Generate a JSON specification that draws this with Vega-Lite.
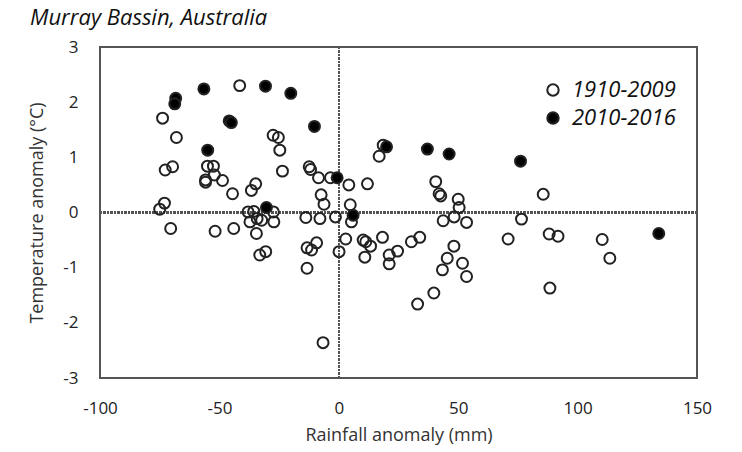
{
  "$schema": "https://vega.github.io/schema/vega-lite/v6.json",
  "width": 597,
  "height": 331,
  "autosize": {"type": "none"},
  "padding": {"left": 100, "top": 47, "right": 45, "bottom": 74},
  "background": "white",
  "title": {
    "text": "Murray Bassin, Australia",
    "anchor": "start",
    "frame": "group",
    "dx": -70,
    "offset": 8,
    "font": "Open Sans",
    "fontSize": 22,
    "fontStyle": "italic",
    "fontWeight": "normal",
    "color": "#111"
  },
  "config": {
    "view": {"stroke": "#555", "strokeWidth": 2},
    "axis": {
      "domain": false,
      "ticks": false,
      "grid": false,
      "labelFlush": false,
      "labelFont": "Open Sans",
      "labelFontSize": 17,
      "labelColor": "#222",
      "titleFont": "Open Sans",
      "titleFontSize": 18,
      "titleFontWeight": "normal",
      "titleColor": "#333"
    }
  },
  "data": {
    "values": [
      {"rain": -41.5, "temp": 2.30, "period": "1910-2009"},
      {"rain": -73.8, "temp": 1.71, "period": "1910-2009"},
      {"rain": -68.0, "temp": 1.36, "period": "1910-2009"},
      {"rain": -27.5, "temp": 1.40, "period": "1910-2009"},
      {"rain": -25.3, "temp": 1.36, "period": "1910-2009"},
      {"rain": -24.7, "temp": 1.13, "period": "1910-2009"},
      {"rain": -72.7, "temp": 0.77, "period": "1910-2009"},
      {"rain": -69.6, "temp": 0.83, "period": "1910-2009"},
      {"rain": -55.0, "temp": 0.84, "period": "1910-2009"},
      {"rain": -52.5, "temp": 0.84, "period": "1910-2009"},
      {"rain": -55.8, "temp": 0.59, "period": "1910-2009"},
      {"rain": -55.8, "temp": 0.55, "period": "1910-2009"},
      {"rain": -52.1, "temp": 0.68, "period": "1910-2009"},
      {"rain": -48.7, "temp": 0.58, "period": "1910-2009"},
      {"rain": -23.6, "temp": 0.75, "period": "1910-2009"},
      {"rain": -12.4, "temp": 0.83, "period": "1910-2009"},
      {"rain": -11.8, "temp": 0.78, "period": "1910-2009"},
      {"rain": -8.5, "temp": 0.63, "period": "1910-2009"},
      {"rain": -3.5, "temp": 0.63, "period": "1910-2009"},
      {"rain": 4.2, "temp": 0.50, "period": "1910-2009"},
      {"rain": -44.5, "temp": 0.34, "period": "1910-2009"},
      {"rain": -34.8, "temp": 0.52, "period": "1910-2009"},
      {"rain": -36.6, "temp": 0.40, "period": "1910-2009"},
      {"rain": -7.4, "temp": 0.32, "period": "1910-2009"},
      {"rain": -6.2, "temp": 0.15, "period": "1910-2009"},
      {"rain": 4.8, "temp": 0.14, "period": "1910-2009"},
      {"rain": -75.0, "temp": 0.06, "period": "1910-2009"},
      {"rain": -73.0, "temp": 0.17, "period": "1910-2009"},
      {"rain": -38.0, "temp": 0.01, "period": "1910-2009"},
      {"rain": -35.6, "temp": 0.02, "period": "1910-2009"},
      {"rain": -27.4, "temp": 0.01, "period": "1910-2009"},
      {"rain": -37.2, "temp": -0.17, "period": "1910-2009"},
      {"rain": -34.2, "temp": -0.11, "period": "1910-2009"},
      {"rain": -32.3, "temp": -0.14, "period": "1910-2009"},
      {"rain": -27.2, "temp": -0.17, "period": "1910-2009"},
      {"rain": -13.8, "temp": -0.09, "period": "1910-2009"},
      {"rain": -7.9, "temp": -0.11, "period": "1910-2009"},
      {"rain": -1.4, "temp": -0.08, "period": "1910-2009"},
      {"rain": 5.3, "temp": -0.17, "period": "1910-2009"},
      {"rain": -70.4, "temp": -0.29, "period": "1910-2009"},
      {"rain": -51.8, "temp": -0.34, "period": "1910-2009"},
      {"rain": -44.0, "temp": -0.29, "period": "1910-2009"},
      {"rain": -34.5, "temp": -0.38, "period": "1910-2009"},
      {"rain": -33.1, "temp": -0.77, "period": "1910-2009"},
      {"rain": -30.6, "temp": -0.71, "period": "1910-2009"},
      {"rain": -13.3, "temp": -0.64, "period": "1910-2009"},
      {"rain": -11.4, "temp": -0.68, "period": "1910-2009"},
      {"rain": -9.3, "temp": -0.55, "period": "1910-2009"},
      {"rain": -13.3, "temp": -1.01, "period": "1910-2009"},
      {"rain": 0.1, "temp": -0.71, "period": "1910-2009"},
      {"rain": 2.9, "temp": -0.48, "period": "1910-2009"},
      {"rain": -6.6, "temp": -2.36, "period": "1910-2009"},
      {"rain": 12.0, "temp": 0.52, "period": "1910-2009"},
      {"rain": 18.6, "temp": 1.22, "period": "1910-2009"},
      {"rain": 16.9, "temp": 1.02, "period": "1910-2009"},
      {"rain": 40.6, "temp": 0.56, "period": "1910-2009"},
      {"rain": 42.0, "temp": 0.34, "period": "1910-2009"},
      {"rain": 42.7, "temp": 0.30, "period": "1910-2009"},
      {"rain": 50.0, "temp": 0.24, "period": "1910-2009"},
      {"rain": 50.4, "temp": 0.09, "period": "1910-2009"},
      {"rain": 43.7, "temp": -0.15, "period": "1910-2009"},
      {"rain": 48.3, "temp": -0.08, "period": "1910-2009"},
      {"rain": 53.5, "temp": -0.18, "period": "1910-2009"},
      {"rain": 10.2, "temp": -0.50, "period": "1910-2009"},
      {"rain": 11.3, "temp": -0.53, "period": "1910-2009"},
      {"rain": 13.3, "temp": -0.61, "period": "1910-2009"},
      {"rain": 18.3, "temp": -0.45, "period": "1910-2009"},
      {"rain": 10.9, "temp": -0.81, "period": "1910-2009"},
      {"rain": 21.1, "temp": -0.77, "period": "1910-2009"},
      {"rain": 24.6, "temp": -0.70, "period": "1910-2009"},
      {"rain": 21.1, "temp": -0.93, "period": "1910-2009"},
      {"rain": 30.4, "temp": -0.53, "period": "1910-2009"},
      {"rain": 33.9, "temp": -0.45, "period": "1910-2009"},
      {"rain": 48.2, "temp": -0.61, "period": "1910-2009"},
      {"rain": 45.4, "temp": -0.83, "period": "1910-2009"},
      {"rain": 43.4, "temp": -1.04, "period": "1910-2009"},
      {"rain": 51.8, "temp": -0.92, "period": "1910-2009"},
      {"rain": 53.5, "temp": -1.16, "period": "1910-2009"},
      {"rain": 39.8, "temp": -1.46, "period": "1910-2009"},
      {"rain": 33.0, "temp": -1.66, "period": "1910-2009"},
      {"rain": 85.6, "temp": 0.33, "period": "1910-2009"},
      {"rain": 76.5, "temp": -0.12, "period": "1910-2009"},
      {"rain": 70.9, "temp": -0.48, "period": "1910-2009"},
      {"rain": 88.1, "temp": -0.39, "period": "1910-2009"},
      {"rain": 91.8, "temp": -0.43, "period": "1910-2009"},
      {"rain": 110.3, "temp": -0.49, "period": "1910-2009"},
      {"rain": 113.5, "temp": -0.83, "period": "1910-2009"},
      {"rain": 88.4, "temp": -1.37, "period": "1910-2009"},
      {"rain": -68.3, "temp": 2.07, "period": "2010-2016"},
      {"rain": -68.7, "temp": 1.97, "period": "2010-2016"},
      {"rain": -56.5, "temp": 2.24, "period": "2010-2016"},
      {"rain": -30.7, "temp": 2.29, "period": "2010-2016"},
      {"rain": -20.1, "temp": 2.16, "period": "2010-2016"},
      {"rain": -45.9, "temp": 1.66, "period": "2010-2016"},
      {"rain": -45.0, "temp": 1.63, "period": "2010-2016"},
      {"rain": -10.2, "temp": 1.56, "period": "2010-2016"},
      {"rain": -54.9, "temp": 1.13, "period": "2010-2016"},
      {"rain": -0.7, "temp": 0.63, "period": "2010-2016"},
      {"rain": -30.3, "temp": 0.09, "period": "2010-2016"},
      {"rain": 6.0, "temp": -0.05, "period": "2010-2016"},
      {"rain": 20.0, "temp": 1.19, "period": "2010-2016"},
      {"rain": 37.1, "temp": 1.15, "period": "2010-2016"},
      {"rain": 46.2, "temp": 1.06, "period": "2010-2016"},
      {"rain": 76.1, "temp": 0.93, "period": "2010-2016"},
      {"rain": 134.0, "temp": -0.38, "period": "2010-2016"}
    ]
  },
  "layer": [
    {
      "mark": {"type": "rule", "color": "#555", "strokeWidth": 1.5, "strokeDash": [2, 1.5]},
      "encoding": {"x": {"datum": 0, "type": "quantitative"}}
    },
    {
      "mark": {"type": "rule", "color": "#555", "strokeWidth": 1.5, "strokeDash": [2, 1.5]},
      "encoding": {"y": {"datum": 0, "type": "quantitative"}}
    },
    {
      "mark": {"type": "point", "shape": "circle", "filled": true, "size": 120, "stroke": "#222", "strokeWidth": 2, "opacity": 1},
      "encoding": {
        "x": {
          "field": "rain",
          "type": "quantitative",
          "scale": {"domain": [-100, 150], "nice": false, "zero": false},
          "axis": {"values": [-100, -50, 0, 50, 100, 150], "labelExpr": "'' + datum.value", "title": "Rainfall anomaly (mm)", "labelPadding": 22, "titlePadding": 10}
        },
        "y": {
          "field": "temp",
          "type": "quantitative",
          "scale": {"domain": [-3, 3], "nice": false, "zero": false},
          "axis": {"values": [-3, -2, -1, 0, 1, 2, 3], "labelExpr": "'' + datum.value", "title": "Temperature anomaly (°C)", "labelPadding": 22, "titlePadding": 16}
        },
        "fill": {
          "field": "period",
          "type": "nominal",
          "scale": {"domain": ["1910-2009", "2010-2016"], "range": ["rgba(255,255,255,0)", "#000"]},
          "legend": {
            "title": null,
            "orient": "none",
            "legendX": 442,
            "legendY": 32,
            "padding": 0,
            "labelFont": "Open Sans",
            "labelFontSize": 22,
            "labelFontStyle": "italic",
            "labelColor": "#111",
            "labelOffset": 8,
            "rowPadding": 6,
            "symbolSize": 130,
            "symbolStrokeWidth": 2,
            "symbolStrokeColor": "#222",
            "symbolType": "circle"
          }
        }
      }
    }
  ]
}
